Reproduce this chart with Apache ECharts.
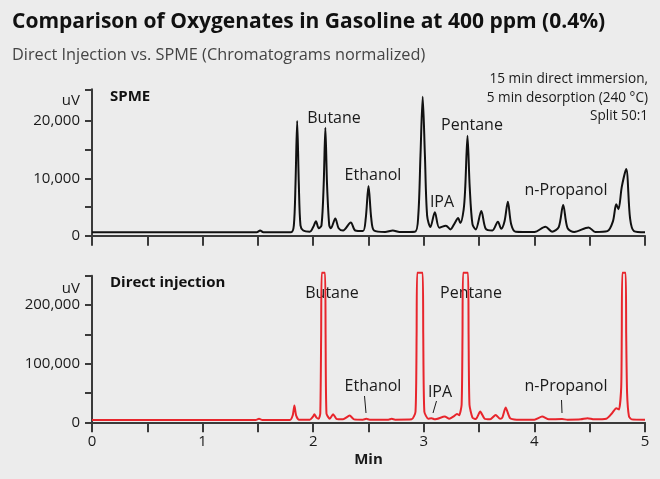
<!DOCTYPE html>
<html>
<head>
<meta charset="utf-8">
<script src="https://cdn.jsdelivr.net/npm/echarts@6/dist/echarts.min.js"></script>
<style>
  html, body { margin: 0; padding: 0; background: #ececec; }
  #chart { width: 660px; height: 479px; }
</style>
</head>
<body>
<div id="chart"></div>
<script>
// SPME chromatogram, [min, uV]
const spme = [
  [0, 600], [1.49, 600], [1.52, 900], [1.55, 600],
  [1.80, 600], [1.825, 1800], [1.84, 9000], [1.855, 20000], [1.87, 9000], [1.885, 1800], [1.91, 900],
  [1.97, 700], [2.0, 1500], [2.025, 2500], [2.05, 1300],
  [2.075, 1800], [2.095, 9000], [2.11, 18800], [2.125, 9000], [2.145, 1800],
  [2.16, 1300], [2.20, 3000], [2.23, 1300], [2.27, 900], [2.34, 2300], [2.38, 900],
  [2.45, 800], [2.475, 3000], [2.50, 8650], [2.525, 3000], [2.55, 900],
  [2.65, 650], [2.72, 900], [2.78, 650], [2.92, 700],
  [2.95, 3500], [2.97, 14000], [2.99, 24200], [3.01, 14000], [3.03, 3500],
  [3.06, 1500], [3.10, 4100], [3.14, 1400], [3.20, 1750], [3.24, 1100],
  [3.28, 2200], [3.31, 3100], [3.33, 2200], [3.36, 4500],
  [3.375, 8500], [3.395, 17400], [3.415, 8500], [3.44, 2000],
  [3.47, 1100], [3.52, 4300], [3.56, 1200], [3.62, 900], [3.67, 2450], [3.70, 1200],
  [3.73, 2500], [3.76, 5900], [3.79, 2000], [3.83, 700],
  [4.0, 650], [4.10, 1570], [4.16, 700], [4.22, 1500], [4.26, 5350], [4.30, 1300],
  [4.36, 650], [4.49, 1450], [4.55, 650], [4.66, 800],
  [4.71, 2500], [4.74, 5470], [4.76, 4600], [4.79, 8500], [4.83, 11600], [4.865, 3000], [4.90, 800], [5.0, 600]
];

// Direct injection chromatogram, [min, uV] (big peaks saturate at ~255,000)
const direct = [
  [0, 4000], [1.48, 4000], [1.51, 6000], [1.54, 4000],
  [1.79, 4000], [1.815, 12000], [1.83, 28600], [1.845, 12000], [1.87, 4500],
  [1.97, 4500], [2.0, 10000], [2.01, 13800], [2.03, 8000], [2.05, 6000],
  [2.064, 15000], [2.072, 150000], [2.077, 255000], [2.107, 255000], [2.112, 150000], [2.12, 15000],
  [2.15, 6000], [2.18, 13800], [2.21, 6000], [2.27, 5000], [2.33, 11400], [2.37, 5000],
  [2.45, 4500], [2.48, 6000], [2.51, 4500], [2.68, 4500], [2.71, 6000], [2.74, 4500],
  [2.89, 5000], [2.925, 18000], [2.935, 150000], [2.94, 255000], [2.99, 255000], [2.995, 150000], [3.005, 18000],
  [3.04, 6000], [3.07, 7000], [3.10, 5000], [3.19, 9700], [3.23, 6000], [3.27, 10000], [3.30, 14300], [3.32, 12000],
  [3.342, 30000], [3.35, 150000], [3.355, 255000], [3.40, 255000], [3.405, 150000], [3.413, 30000],
  [3.44, 8000], [3.47, 5500], [3.51, 18300], [3.55, 6000], [3.60, 5000], [3.65, 12600], [3.69, 6000],
  [3.71, 8000], [3.74, 25200], [3.78, 7000], [3.84, 4500],
  [4.0, 4500], [4.07, 9700], [4.13, 5000], [4.25, 5500], [4.30, 4500], [4.42, 5000], [4.48, 7000], [4.54, 5000],
  [4.65, 6000], [4.70, 15000], [4.74, 24100], [4.765, 22000],
  [4.785, 60000], [4.79, 150000], [4.795, 255000], [4.825, 255000], [4.83, 150000], [4.838, 50000], [4.855, 10000], [4.88, 5000], [5.0, 4500]
];

const topTicks = [0, 5000, 10000, 15000, 20000, 25500];
const topLabels = [0, 10000, 20000];
const bottomTicks = [0, 50000, 100000, 150000, 200000, 250000];
const bottomLabels = [0, 100000, 200000];
const xLabels = [0, 1, 2, 3, 4, 5];

var font = 'Open Sans';
var axisColor = '#3a3a3a';

function fmt (v) {
  return v.toLocaleString('en-US');
}

function txt (x, y, s, opt) {
  return {
    type: 'text', x: x, y: y, silent: true,
    style: Object.assign({
      text: s, fill: '#1a1a1a', font: '16px "Open Sans"',
      align: 'center', verticalAlign: 'middle'
    }, opt || {})
  };
}

function leader (x1, y1, x2, y2) {
  return {
    type: 'line', silent: true,
    shape: { x1: x1, y1: y1, x2: x2, y2: y2 },
    style: { stroke: '#1a1a1a', lineWidth: 1 }
  };
}

var xAxisBase = {
  type: 'value', min: 0, max: 5, interval: 0.5,
  axisLine: { lineStyle: { color: axisColor, width: 2 } },
  axisTick: { length: 10, lineStyle: { color: axisColor, width: 2 } },
  splitLine: { show: false }
};

var yAxisBase = {
  type: 'value', min: 0,
  axisLine: { show: true, lineStyle: { color: axisColor, width: 2 } },
  axisTick: { show: true, length: 7, lineStyle: { color: axisColor, width: 2 } },
  axisLabel: { color: '#1a1a1a', fontFamily: font, fontSize: 15, margin: 12 },
  splitLine: { show: false }
};

var myChart = echarts.init(document.getElementById('chart'));
var option = {
  backgroundColor: '#ececec',
  animation: false,
  textStyle: { fontFamily: font },
  grid: [
    { left: 92, right: 15, top: 89.3, bottom: 243.3 },
    { left: 92, right: 15, top: 275.7, bottom: 56.7 }
  ],
  xAxis: [
    Object.assign({}, xAxisBase, {
      gridIndex: 0,
      axisLabel: { show: false }
    }),
    Object.assign({}, xAxisBase, {
      gridIndex: 1,
      axisLabel: {
        color: '#1a1a1a', fontFamily: font, fontSize: 15, margin: 12,
        customValues: xLabels
      },
      name: 'Min', nameLocation: 'middle', nameGap: 30,
      nameTextStyle: { color: '#1a1a1a', fontFamily: font, fontSize: 15, fontWeight: 'bold' }
    })
  ],
  yAxis: [
    Object.assign({}, yAxisBase, {
      gridIndex: 0, max: 25500,
      axisTick: Object.assign({}, yAxisBase.axisTick, { customValues: topTicks }),
      axisLabel: Object.assign({}, yAxisBase.axisLabel, { customValues: topLabels, formatter: fmt })
    }),
    Object.assign({}, yAxisBase, {
      gridIndex: 1, max: 250000,
      axisTick: Object.assign({}, yAxisBase.axisTick, { customValues: bottomTicks }),
      axisLabel: Object.assign({}, yAxisBase.axisLabel, { customValues: bottomLabels, formatter: fmt })
    })
  ],
  series: [
    {
      name: 'SPME', type: 'line', xAxisIndex: 0, yAxisIndex: 0,
      data: spme, showSymbol: false, smooth: 0.3,
      lineStyle: { color: '#111', width: 2 }, z: 3
    },
    {
      name: 'Direct injection', type: 'line', xAxisIndex: 1, yAxisIndex: 1,
      data: direct, showSymbol: false, smooth: 0.2, clip: false,
      lineStyle: { color: '#e8252c', width: 2 }, z: 3
    }
  ],
  graphic: [
    txt(12, 22, 'Comparison of Oxygenates in Gasoline at 400 ppm (0.4%)',
      { font: 'bold 21px "Open Sans"', align: 'left', fill: '#111' }),
    txt(12, 55, 'Direct Injection vs. SPME (Chromatograms normalized)',
      { font: '16.3px "Open Sans"', align: 'left', fill: '#444' }),
    txt(648, 79, '15 min direct immersion,', { font: '13.6px "Open Sans"', align: 'right' }),
    txt(648, 98, '5 min desorption (240 \u00b0C)', { font: '13.6px "Open Sans"', align: 'right' }),
    txt(648, 116, 'Split 50:1', { font: '13.6px "Open Sans"', align: 'right' }),
    txt(80, 101, 'uV', { align: 'right', font: '15px "Open Sans"' }),
    txt(80, 289, 'uV', { align: 'right', font: '15px "Open Sans"' }),
    txt(110, 97, 'SPME', { font: 'bold 15px "Open Sans"', align: 'left', fill: '#111' }),
    txt(110, 283, 'Direct injection', { font: 'bold 15px "Open Sans"', align: 'left', fill: '#111' }),
    txt(334, 118, 'Butane'),
    txt(373, 175, 'Ethanol'),
    txt(442, 202, 'IPA'),
    txt(472, 125, 'Pentane'),
    txt(566, 190, 'n-Propanol'),
    txt(332, 293, 'Butane'),
    txt(471, 293, 'Pentane'),
    txt(373, 386, 'Ethanol'),
    txt(440, 392, 'IPA'),
    txt(566, 386, 'n-Propanol'),
    leader(364.5, 396, 366, 413),
    leader(436.5, 401, 433, 413),
    leader(561.5, 400, 562, 413)
  ]
};
myChart.setOption(option);
</script>
</body>
</html>
